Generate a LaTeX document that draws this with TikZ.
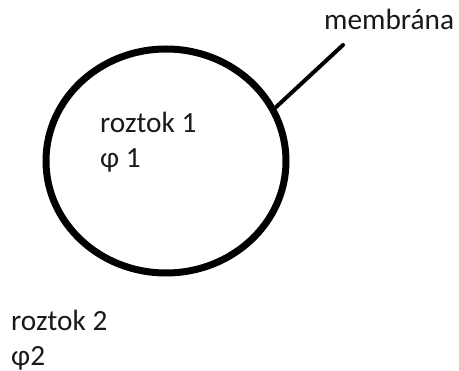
\documentclass[tikz,border=0pt]{standalone}
\usepackage{fontspec}
\setmainfont{Carlito}
\usetikzlibrary{shapes.geometric}
\begin{document}
\begin{tikzpicture}[x=1pt,y=-1pt,
  label/.style={anchor=base west,inner sep=0pt,font=\fontsize{29.3}{35}\selectfont,text=black!90},
  membrane/.style={draw,ellipse,line width=7pt,inner sep=0pt,minimum width=240pt,minimum height=224pt},
  pointer/.style={line width=4pt,line cap=round}]
  \useasboundingbox (0,0) rectangle (459,371);
  % the cell and its wall
  \node[membrane] (cell) at (166,161) {};
  \coordinate (tip) at (343,45);
  \draw[pointer] (cell.26) -- (tip);
  % labels
  \node[label] (mem) at (324,30) {membrána};
  \node[label] (r1) at (100,133) {roztok 1};
  \node[label] (p1) at (100,168) {φ 1};
  \node[label] (r2) at (11,331) {roztok 2};
  \node[label] (p2) at (11,366) {φ2};
\end{tikzpicture}
\end{document}
